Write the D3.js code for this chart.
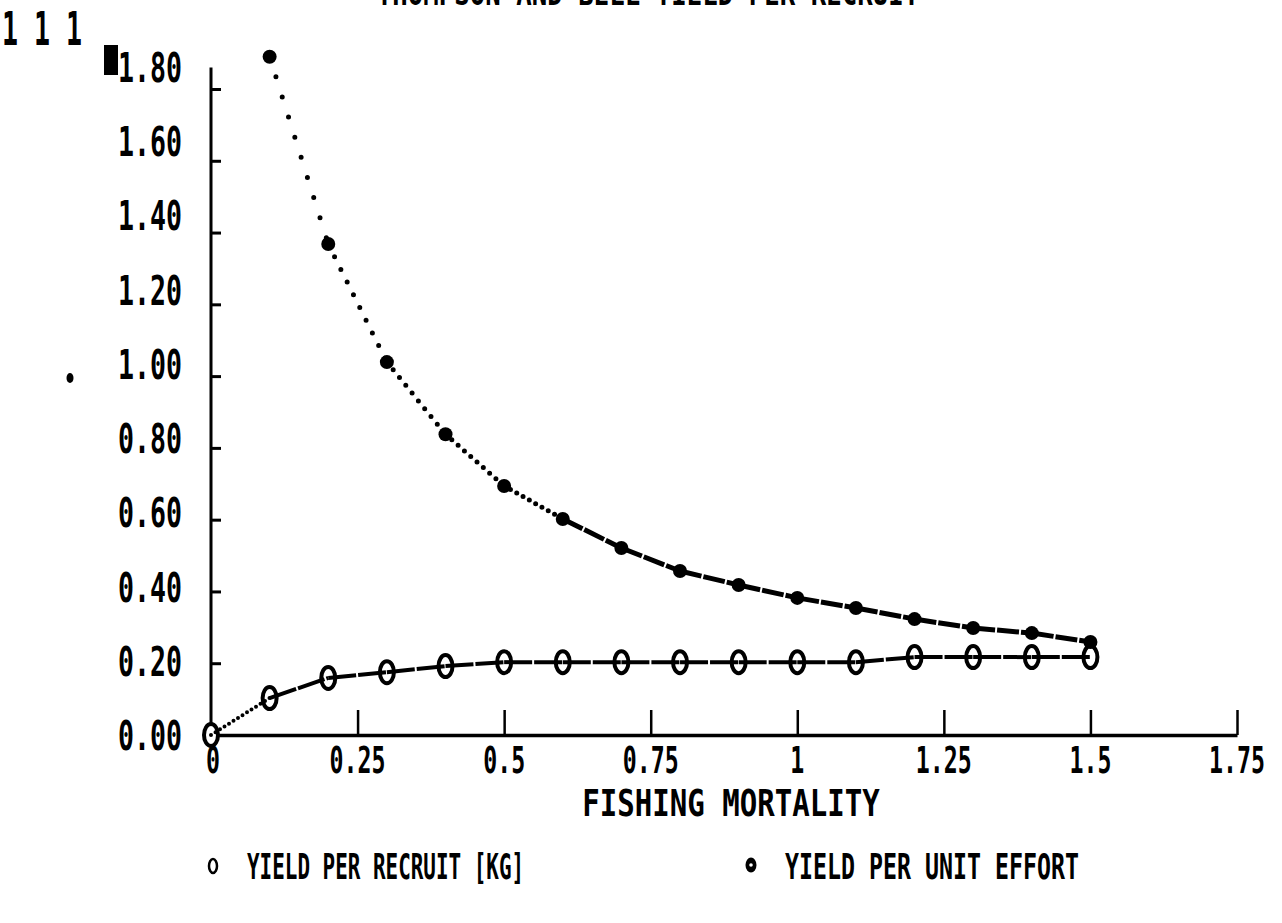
<!DOCTYPE html>
<html>
<head>
<meta charset="utf-8">
<script src="https://cdn.jsdelivr.net/npm/d3@7/dist/d3.min.js"></script>
<style>
  html, body { margin: 0; padding: 0; background: #fff; }
  svg { display: block; }
</style>
</head>
<body>
<script>
// Fishing mortality levels (F) and the two yield series computed for them
const mortality = [0, 0.1, 0.2, 0.3, 0.4, 0.5, 0.6, 0.7, 0.8, 0.9, 1.0, 1.1, 1.2, 1.3, 1.4, 1.5];
const yieldPerRecruit = [0, 0.103, 0.159, 0.175, 0.192, 0.203, 0.203, 0.203, 0.203, 0.203, 0.203, 0.203, 0.217, 0.217, 0.217, 0.217];
const effortMortality = [0.1, 0.2, 0.3, 0.4, 0.5, 0.6, 0.7, 0.8, 0.9, 1.0, 1.1, 1.2, 1.3, 1.4, 1.5];
const yieldPerUnitEffort = [1.89, 1.368, 1.039, 0.838, 0.694, 0.602, 0.521, 0.457, 0.418, 0.382, 0.354, 0.323, 0.298, 0.284, 0.259];

const xTickValues = [0, 0.25, 0.5, 0.75, 1, 1.25, 1.5, 1.75];
const xTickLabels = ["0", "0.25", "0.5", "0.75", "1", "1.25", "1.5", "1.75"];
const yTickValues = [0, 0.2, 0.4, 0.6, 0.8, 1.0, 1.2, 1.4, 1.6, 1.8];

const titleText = "THOMPSON AND BELL YIELD PER RECRUIT";
const xTitle = "FISHING MORTALITY";
const legendLabels = ["YIELD PER RECRUIT [KG]", "YIELD PER UNIT EFFORT"];

const W = 1282, H = 923;
const svg = d3.select("body").append("svg").attr("width", W).attr("height", H);
svg.append("rect").attr("width", W).attr("height", H).attr("fill", "#fff");

const x = d3.scaleLinear().domain([0, 1.75]).range([211, 1237]);
const y = d3.scaleLinear().domain([0, 1.8]).range([735, 89]);
// tick labels of this plotter sit on their own, slightly wider spacing
const yLabel = d3.scaleLinear().domain([0, 1.8]).range([735, 67]);

// condensed printer-style lettering: monospaced glyphs squeezed horizontally
function label(g, str, px, py, cap, cw, anchor) {
  const fs = cap / 0.729;
  const sx = cw / (0.602 * fs);
  return g.append("text")
    .attr("transform", `translate(${px},${py}) scale(${sx},1)`)
    .attr("text-anchor", anchor || "start")
    .attr("font-family", "'DejaVu Sans Mono', monospace")
    .attr("font-weight", "bold")
    .attr("font-size", fs)
    .attr("fill", "#000")
    .text(str);
}

const g = svg.append("g");

// title (printed at the very top edge of the sheet)
label(g, titleText, 648, 5, 25, 15.5, "middle");
label(g, "1 1 1", 2, 45, 34, 16, "start");

// y axis
const yAxis = d3.axisLeft(y).tickValues(yTickValues.filter(v => v > 0))
  .tickSizeInner(-10).tickSizeOuter(0).tickFormat("");
const gy = g.append("g").attr("transform", `translate(${x(0)},0)`).call(yAxis);
gy.select(".domain").remove();
gy.selectAll(".tick line").attr("stroke", "#000").attr("stroke-width", 3);
g.append("line").attr("x1", x(0)).attr("x2", x(0))
  .attr("y1", y(0)).attr("y2", y(1.86))
  .attr("stroke", "#000").attr("stroke-width", 3);

yTickValues.forEach(v => {
  label(g, d3.format(".2f")(v), 182, yLabel(v) + 15, 30, 16, "end");
});

// x axis
const xAxis = d3.axisBottom(x).tickValues(xTickValues.filter(v => v > 0))
  .tickSizeInner(-25).tickSizeOuter(0).tickFormat("");
const gx = g.append("g").attr("transform", `translate(0,${y(0)})`).call(xAxis);
gx.select(".domain").attr("stroke", "#000").attr("stroke-width", 3.5);
gx.selectAll(".tick line").attr("stroke", "#000").attr("stroke-width", 2.5);

xTickValues.forEach((v, i) => {
  if (v === 0) label(g, xTickLabels[i], x(v) - 5, 773, 27, 14, "start");
  else label(g, xTickLabels[i], x(v), 773, 27, 14, "middle");
});

label(g, xTitle, 731, 816, 27, 17.5, "middle");

// plotter strokes: steep runs come out as separate pen dots (one per horizontal step),
// shallow runs merge into a nearly solid trace
function plotterSegments(sel, pts, width, step, steepness, dash) {
  for (let i = 0; i < pts.length - 1; i++) {
    const [x1, y1] = pts[i], [x2, y2] = pts[i + 1];
    const dx = Math.abs(x2 - x1), dy = Math.abs(y2 - y1);
    const len = Math.hypot(dx, dy);
    const ln = sel.append("line")
      .attr("x1", x1).attr("y1", y1).attr("x2", x2).attr("y2", y2)
      .attr("stroke", "#000").attr("stroke-width", width);
    if (dy / Math.max(dx, 1e-6) > steepness) {
      const gap = step * len / Math.max(dx, 1e-6);
      ln.attr("stroke-linecap", "round").attr("stroke-dasharray", `0,${gap.toFixed(2)}`);
    } else {
      ln.attr("stroke-dasharray", dash);
    }
  }
}

// yield per recruit: open "0" markers threaded on the line
const yprPts = mortality.map((f, i) => [x(f), y(yieldPerRecruit[i])]);
const gYpr = g.append("g");
gYpr.selectAll("ellipse").data(yprPts).join("ellipse")
  .attr("cx", d => d[0]).attr("cy", d => d[1])
  .attr("rx", 7).attr("ry", 11)
  .attr("fill", "#fff").attr("stroke", "#000").attr("stroke-width", 4);
plotterSegments(gYpr, yprPts, 4, 4.5, 0.45, "28,2");

// yield per unit effort: filled markers
const ypuePts = effortMortality.map((f, i) => [x(f), y(yieldPerUnitEffort[i])]);
const gYpue = g.append("g");
plotterSegments(gYpue, ypuePts, 5, 6.3, 0.53, "22,2");
gYpue.selectAll("circle").data(ypuePts).join("circle")
  .attr("cx", d => d[0]).attr("cy", d => d[1])
  .attr("r", 7).attr("fill", "#000");

// legend
const lg = g.append("g");
lg.append("ellipse").attr("cx", 213).attr("cy", 866).attr("rx", 4).attr("ry", 7)
  .attr("fill", "none").attr("stroke", "#000").attr("stroke-width", 2.5);
label(lg, legendLabels[0], 247, 879, 26, 12.6, "start");
lg.append("ellipse").attr("cx", 751).attr("cy", 865).attr("rx", 5.5).attr("ry", 7.5)
  .attr("fill", "#000");
lg.append("circle").attr("cx", 751).attr("cy", 865).attr("r", 1.8).attr("fill", "#fff");
label(lg, legendLabels[1], 785, 879, 26, 14, "start");

// printer cursor block beside the top tick label and a stray pen mark
g.append("rect").attr("x", 104).attr("y", 45).attr("width", 14).attr("height", 30).attr("fill", "#000");
g.append("ellipse").attr("cx", 70).attr("cy", 378).attr("rx", 3.5).attr("ry", 5).attr("fill", "#000");
</script>
</body>
</html>
